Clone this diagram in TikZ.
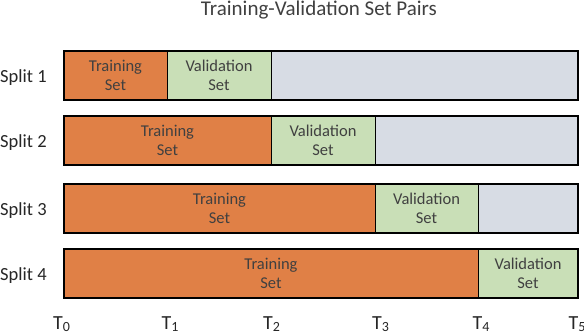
\documentclass[tikz,border=0pt]{standalone}
\usepackage{fontspec}
\setmainfont{Carlito}
\usepackage{tikz}
\usetikzlibrary{positioning}

\definecolor{trainorange}{HTML}{E08046}
\definecolor{valgreen}{HTML}{C9DFB7}
\definecolor{restgray}{HTML}{D7DCE4}
\definecolor{textgray}{HTML}{404040}

\newcommand{\tstamp}[1]{T\raisebox{-2.2pt}{\fontsize{14}{14}\selectfont #1}}

\tikzset{
  segbox/.style={draw=black, line width=0.9pt, inner sep=0pt, outer sep=0pt,
    minimum height=49pt, anchor=west, align=center, text=textgray,
    font=\fontsize{16.5}{18.5}\selectfont,
    execute at begin node={\rule{0pt}{21pt}}},
  trainbox/.style={segbox, fill=trainorange},
  valbox/.style={segbox, fill=valgreen},
  restbox/.style={segbox, fill=restgray},
  splitlabel/.style={anchor=base west, inner sep=0pt, text=black!85,
    font=\fontsize{18.5}{20}\selectfont},
  timelabel/.style={anchor=base, inner sep=0pt, text=black!85,
    font=\fontsize{20}{20}\selectfont}
}

\begin{document}
\begin{tikzpicture}[x=1pt, y=-1pt]
    \useasboundingbox (0,0) rectangle (584,334);

    % Title
    \node[anchor=base, text=textgray, font=\fontsize{21}{21}\selectfont] (title) at (319,16) {Training-Validation Set Pairs};

    % Splits: training, validation, remaining
    \foreach \i/\y/\a/\b in {1/75.5/167/271, 2/140.5/271/375, 3/208.5/375/478, 4/273.5/478/578}{
        \node[trainbox, minimum width=\a pt-64pt] (train\i) at (64,\y) {Training\\Set};
        \node[valbox, minimum width=\b pt-\a pt] (val\i) at (\a,\y) {Validation\\Set};
        \ifnum\b<578
            \node[restbox, minimum width=578pt-\b pt] (rest\i) at (\b,\y) {};
        \fi
        \coordinate (end\i) at (578,\y);
        % Outer frame
        \draw[line width=1.6pt] (train\i.north west) rectangle (train\i.south west -| end\i);
        % Split label
        \node[splitlabel] (split\i) at (0,\y+7) {Split \i};
    }

    % Time stamps
    \foreach \k/\x in {0/61.5, 1/170, 2/271.5, 3/380.5, 4/481, 5/577}{
        \node[timelabel] (t\k) at (\x,329.5) {\tstamp{\k}};
    }
\end{tikzpicture}
\end{document}
